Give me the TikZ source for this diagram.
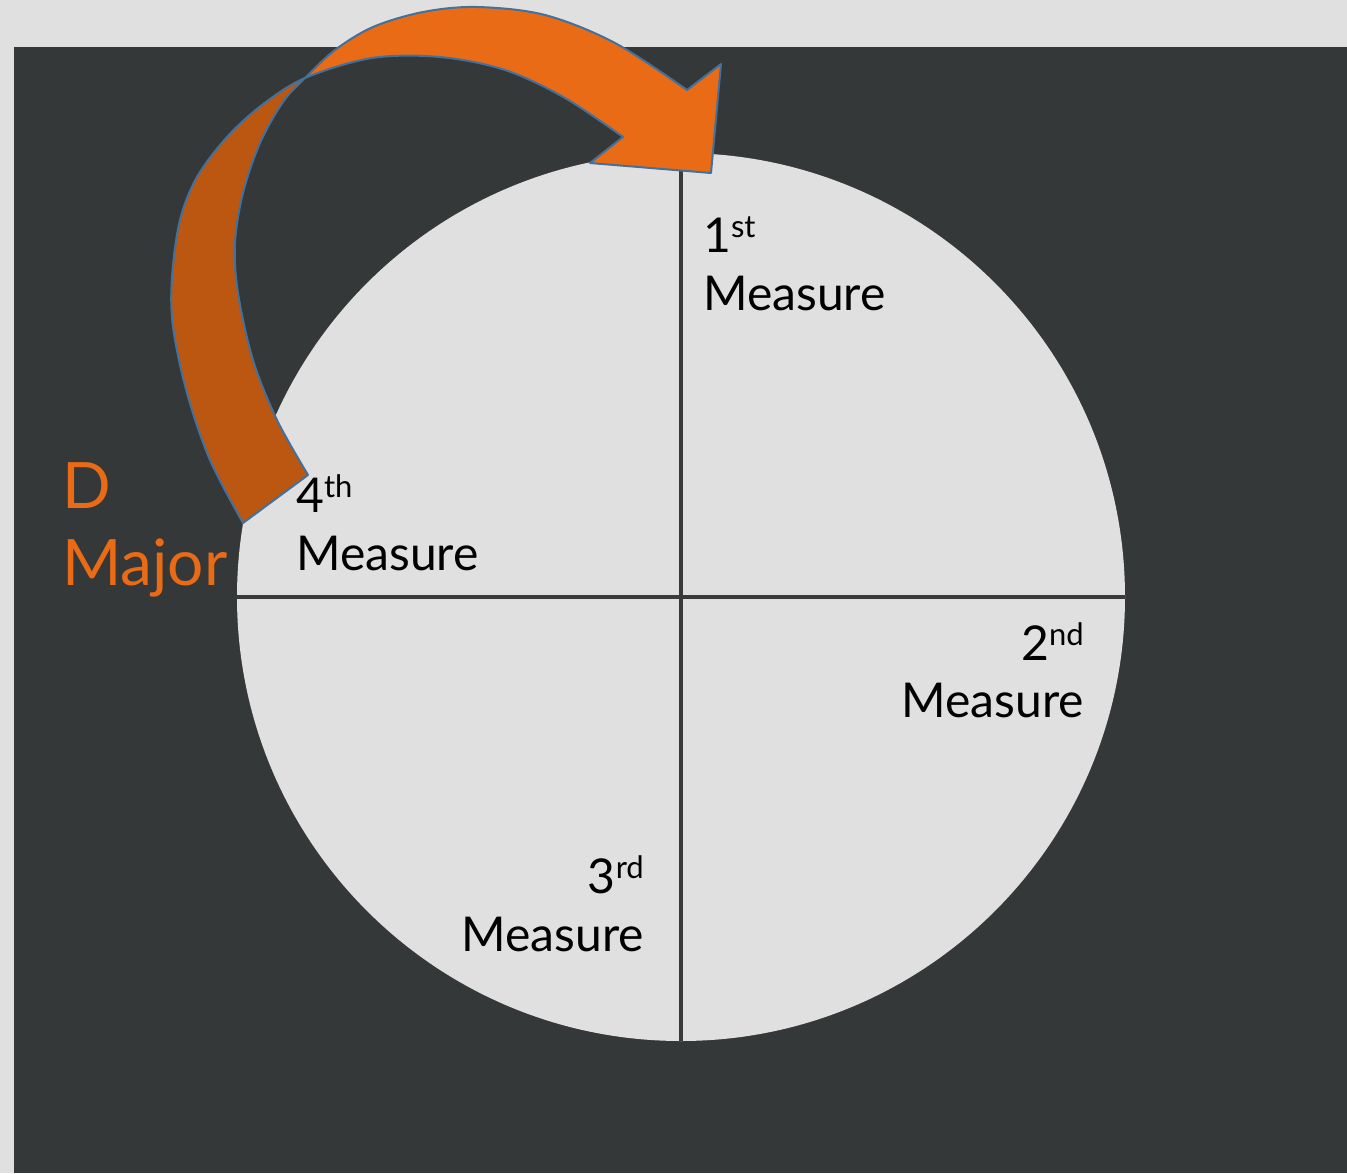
\documentclass[tikz,border=0pt]{standalone}
\usepackage{fontspec}
\setmainfont{Lato}
\usetikzlibrary{positioning}

\definecolor{paper}{HTML}{E0E0E0}
\definecolor{slate}{HTML}{353839}
\definecolor{divider}{HTML}{3A3A3A}
\definecolor{orangelight}{HTML}{E96B16}
\definecolor{orangedark}{HTML}{BB5711}
\definecolor{edgeblue}{HTML}{41719C}

\newcommand{\ordsup}[1]{\raisebox{15pt}{\fontsize{31}{31}\selectfont #1}}
% twisted ribbon of the curved arrow (edges cross at 305,78)
\newcommand{\ribbon}{plot[smooth, tension=0.55] coordinates {(243,523) (210,460) (187,393) (173,327) (172,277) (180,220) (197,177) (227,137) (262,105) (305,78) (372,58) (440,57) (505,70) (565,98) (623,137)}
  -- (590,163) -- (711,173) -- (721,64) -- (687,90)
  -- plot[smooth, tension=0.55] coordinates {(687,90) (615,43) (545,15) (477,7) (423,12) (373,27) (335,50) (305,78) (283,102) (260,143) (243,193) (235,243) (238,293) (253,360) (277,420) (308,475)} -- cycle}

\begin{document}
\begin{tikzpicture}[x=1pt, y=-1pt,
    lbl/.style={inner sep=0pt, font=\fontsize{48}{52}\selectfont},
    keylbl/.style={inner sep=0pt, text=orangelight, font=\fontsize{64}{68}\selectfont},
    band/.style={draw=edgeblue, line width=2pt, line join=round}]
\useasboundingbox (0,0) rectangle (1347,1173);
\fill[paper] (0,0) rectangle (1347,1173);
\fill[slate] (14,47) rectangle (1347,1173);

\node[circle, fill=paper, minimum size=888pt, inner sep=0pt] (clock) at (681,597) {};
\draw[divider, line width=4pt] (clock.north) -- (clock.south);
\draw[divider, line width=4pt] (clock.west) -- (clock.east);

% curved arrow: front in light orange, back part darker
\fill[orangelight] \ribbon;
\begin{scope}
  \clip (0,0) -- (45,0) -- (320,82.5) -- (320,1173) -- (0,1173) -- cycle;
  \fill[orangedark] \ribbon;
\end{scope}
\draw[band] \ribbon;

\node[lbl, anchor=base west] (n1) at (703,252) {1\ordsup{st}};
\node[lbl, anchor=base west] (m1) at (703,310) {Measure};
\node[lbl, anchor=base east] (n2) at (1084,660) {2\ordsup{nd}};
\node[lbl, anchor=base east] (m2) at (1084,717) {Measure};
\node[lbl, anchor=base east] (n3) at (644,893) {3\ordsup{rd}};
\node[lbl, anchor=base east] (m3) at (644,951) {Measure};
\node[lbl, anchor=base west] (n4) at (296,512) {4\ordsup{th}};
\node[lbl, anchor=base west] (m4) at (296,570) {Measure};

\node[keylbl, anchor=base west] (key) at (62,508) {D};
\node[keylbl, anchor=base west] (mode) at (62,585) {Major};
\end{tikzpicture}
\end{document}
